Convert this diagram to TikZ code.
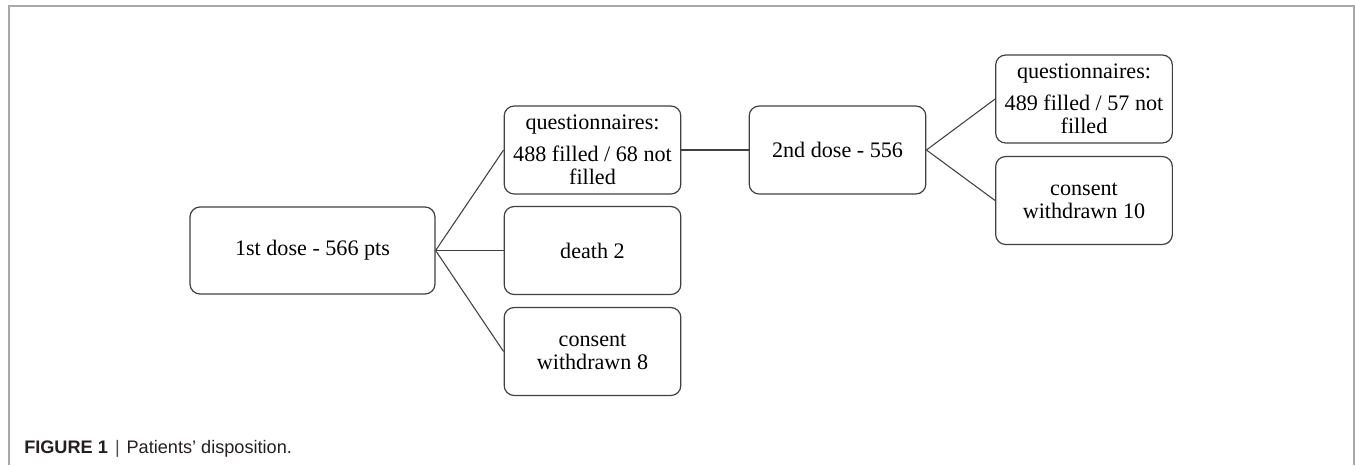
\documentclass[tikz,border=0pt]{standalone}
\usepackage{fontspec}
\setmainfont{Liberation Serif}
\newfontfamily\capfont{Liberation Sans}
\definecolor{boxline}{HTML}{404040}
\definecolor{framegray}{HTML}{A8A8A8}
\definecolor{captext}{HTML}{231F20}
\begin{document}
\begin{tikzpicture}[x=0.75pt,y=-0.75pt,
  flowbox/.style={draw=boxline,line width=0.9pt,rounded corners=7.5pt,
    minimum width=132.5pt,minimum height=66pt,inner sep=0pt,align=center,
    font=\fontsize{16.6}{17.25}\selectfont,text=black},
  link/.style={draw=boxline,line width=0.8pt}]
\useasboundingbox (0,0) rectangle (1355,465);
\draw[framegray,line width=1.1pt] (9,465) -- (9,6) -- (1354,6) -- (1354,465);
% nodes
\node[flowbox,minimum width=183.75pt,minimum height=65.25pt] (a) at (312.5,250.5) {1st dose - 566 pts};
\node[flowbox] (q1) at (592.5,150) {questionnaires:\\[6.5pt]488 filled / 68 not\\filled};
\node[flowbox] (d) at (592.5,250.5) {death 2};
\node[flowbox] (c8) at (592.5,351.5) {consent\\withdrawn 8};
\node[flowbox] (b) at (837.5,150) {2nd dose - 556};
\node[flowbox] (q2) at (1084,99) {questionnaires:\\[6.5pt]489 filled / 57 not\\filled};
\node[flowbox] (c10) at (1084,200.5) {consent\\withdrawn 10};
% connectors
\draw[link] (a.east) -- (q1.west);
\draw[link] (a.east) -- (d.west);
\draw[link] (a.east) -- (c8.west);
\draw[link] (q1.east) -- (b.west);
\draw[link] (b.east) -- (q2.west);
\draw[link] (b.east) -- (c10.west);
% caption
\node[anchor=base west,inner sep=0pt,text=captext,font=\capfont\fontsize{13.6}{15}\selectfont] (cap) at (24,453)
  {\textbf{FIGURE 1}\hspace{5.5pt}{\color{captext!80}|}\hspace{5pt}Patients’ disposition.};
\end{tikzpicture}
\end{document}
